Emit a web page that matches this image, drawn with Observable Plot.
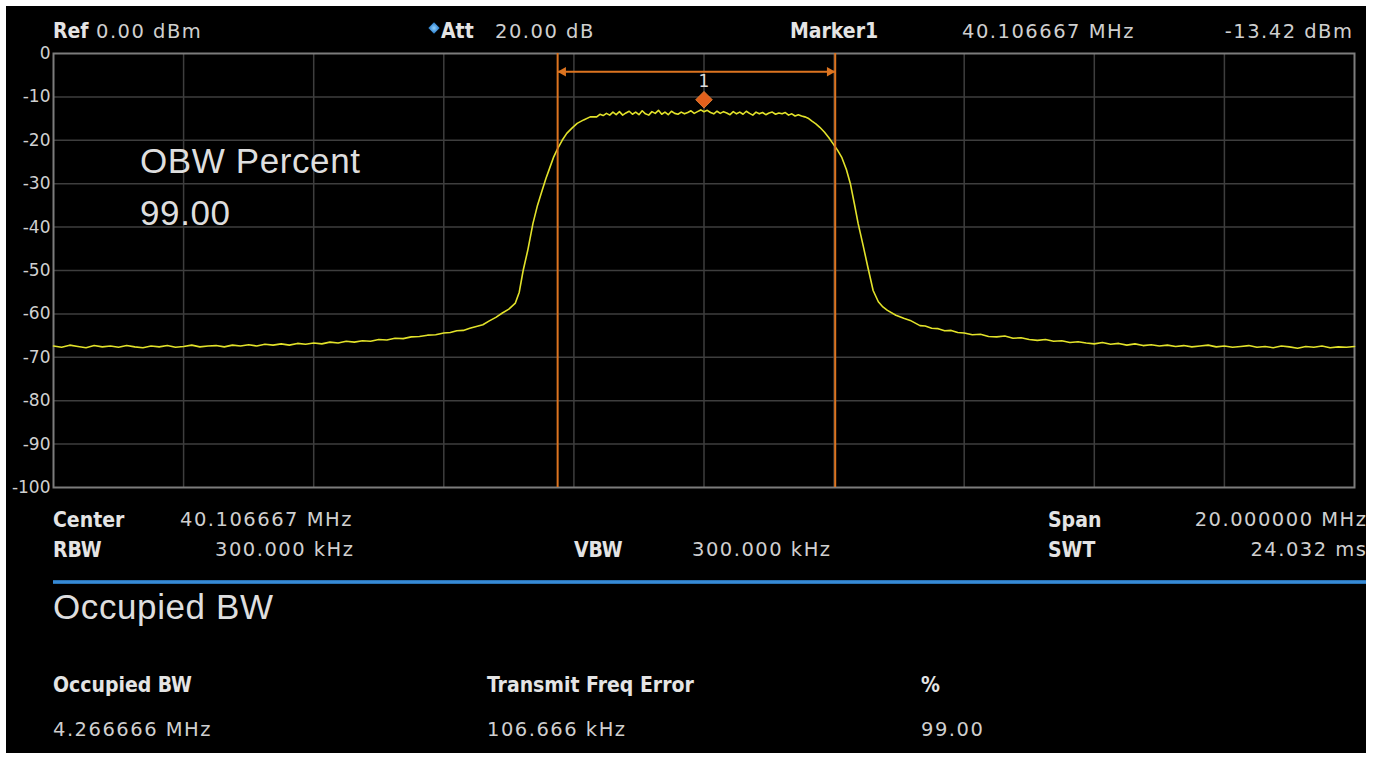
<!DOCTYPE html>
<html><head><meta charset="utf-8">
<script src="https://cdn.jsdelivr.net/npm/d3@7"></script>
<script src="https://cdn.jsdelivr.net/npm/@observablehq/plot@0.6"></script>
<style>
html,body{margin:0;padding:0;background:#fff;}
#page{position:relative;width:1381px;height:758px;overflow:hidden;background:#fff;}
#screen{position:absolute;left:6px;top:6px;width:1360px;height:747px;background:#000;}
#chart{position:absolute;left:0;top:0;}
.t{position:absolute;white-space:nowrap;line-height:1;}
.lbl{font-family:"DejaVu Sans Condensed","DejaVu Sans",sans-serif;font-stretch:condensed;font-weight:bold;font-size:21px;color:#e4e4e4;}
.val{font-family:"DejaVu Sans",sans-serif;font-size:19.5px;letter-spacing:1.5px;color:#cfcfcf;}
.big{font-family:"Liberation Sans",Arial,sans-serif;font-size:35px;letter-spacing:0.6px;color:#dedede;}
#blue{position:absolute;left:53px;top:580px;width:1313px;height:4px;background:linear-gradient(#23649f,#3d97e8,#23649f);}
#attdot{position:absolute;left:430px;top:24px;width:8px;height:8px;transform:rotate(45deg);background:radial-gradient(#8fd0ff,#2278c8);}
</style></head><body>
<div id="page"><div id="screen"></div><div id="blue"></div><div id="attdot"></div><div id="chart"></div></div>
<script>
// ---- data ----
const centerMHz = 40.106667;           // center frequency
const spanMHz = 20;                    // span
const xGridMHz = [-8, -6, -4, -2, 0, 2, 4, 6, 8];   // offsets from center
const yTicks = [0, -10, -20, -30, -40, -50, -60, -70, -80, -90, -100];
const obwEdgesMHz = [-2.25, 2.017];    // occupied bandwidth edges (offset from center)
const marker = [{offset: 0, level: -13.42}];
const arrowLevel = -4.2;
// trace: [offset from center (MHz), level (dBm)]
const trace = [
[-10.000,-67.4],[-9.875,-67.7],[-9.750,-67.2],[-9.625,-67.5],[-9.500,-67.8],[-9.375,-67.3],[-9.250,-67.6],[-9.125,-67.4],
[-9.000,-67.7],[-8.875,-67.3],[-8.750,-67.6],[-8.625,-67.8],[-8.500,-67.4],[-8.375,-67.6],[-8.250,-67.3],[-8.125,-67.7],
[-8.000,-67.5],[-7.875,-67.2],[-7.750,-67.6],[-7.625,-67.4],[-7.500,-67.3],[-7.375,-67.6],[-7.250,-67.2],[-7.125,-67.4],
[-7.000,-67.1],[-6.875,-67.4],[-6.750,-67.0],[-6.625,-67.2],[-6.500,-66.9],[-6.375,-67.2],[-6.250,-66.8],[-6.125,-67.0],
[-6.000,-66.7],[-5.875,-66.9],[-5.750,-66.5],[-5.625,-66.7],[-5.500,-66.3],[-5.375,-66.5],[-5.250,-66.2],[-5.125,-66.3],
[-5.000,-65.9],[-4.875,-66.0],[-4.750,-65.6],[-4.625,-65.7],[-4.500,-65.3],[-4.375,-65.2],[-4.250,-64.9],[-4.125,-64.8],
[-4.000,-64.4],[-3.900,-64.3],[-3.800,-63.9],[-3.700,-63.8],[-3.600,-63.3],[-3.500,-62.9],[-3.400,-62.5],[-3.300,-61.6],
[-3.20,-60.8],[-3.10,-59.8],[-3.00,-58.9],[-2.90,-57.5],[-2.84,-55.0],[-2.78,-50.0],[-2.71,-45.4],[-2.63,-39.2],
[-2.56,-35.0],[-2.49,-31.6],[-2.43,-28.8],[-2.37,-26.3],[-2.31,-23.8],[-2.25,-21.9],[-2.18,-20.0],[-2.11,-18.4],
[-2.03,-17.2],[-1.95,-16.1],[-1.85,-15.3],[-1.75,-14.6],[-1.65,-14.6],[-1.60,-14.0],
[-1.55,-14.3],[-1.50,-13.8],[-1.45,-14.2],[-1.40,-13.5],[-1.35,-14.1],[-1.30,-13.4],[-1.25,-14.2],[-1.20,-13.7],
[-1.15,-13.3],[-1.10,-14.0],[-1.05,-13.5],[-1.00,-14.1],[-0.95,-13.2],[-0.90,-13.9],[-0.85,-14.2],[-0.80,-13.4],
[-0.75,-13.8],[-0.70,-13.1],[-0.65,-14.0],[-0.60,-13.5],[-0.55,-14.1],[-0.50,-13.3],[-0.45,-13.8],[-0.40,-14.0],
[-0.35,-13.5],[-0.30,-13.9],[-0.25,-13.6],[-0.20,-13.2],[-0.15,-13.8],[-0.10,-13.4],[-0.05,-13.0],[0.00,-13.42],
[0.05,-13.1],[0.10,-13.6],[0.15,-13.9],[0.20,-13.3],[0.25,-13.8],[0.30,-13.4],[0.35,-13.7],[0.40,-14.1],
[0.45,-13.4],[0.50,-13.9],[0.55,-13.5],[0.60,-14.0],[0.65,-13.3],[0.70,-13.8],[0.75,-14.2],[0.80,-13.5],
[0.85,-13.9],[0.90,-13.6],[0.95,-14.1],[1.00,-13.7],[1.05,-13.5],[1.10,-14.0],[1.15,-13.7],[1.20,-13.9],
[1.25,-13.6],[1.30,-14.2],[1.35,-13.9],[1.40,-14.4],[1.45,-14.1],[1.50,-14.4],
[1.55,-14.6],[1.60,-14.9],[1.66,-15.6],[1.72,-16.2],[1.78,-17.0],[1.85,-18.1],[1.92,-19.4],[1.98,-20.7],
[2.05,-22.2],[2.12,-24.0],[2.19,-26.8],[2.25,-30.0],[2.31,-34.5],[2.37,-39.2],[2.45,-44.5],[2.52,-49.3],
[2.60,-54.6],[2.68,-57.2],[2.75,-58.4],[2.82,-59.2],[2.95,-60.3],[3.07,-61.0],[3.17,-61.5],[3.32,-62.7],
[3.400,-62.8],[3.500,-63.3],[3.600,-63.4],[3.700,-63.9],[3.800,-63.8],[3.900,-64.3],[4.000,-64.4],[4.125,-64.8],
[4.250,-64.7],[4.375,-65.2],[4.500,-65.3],[4.625,-65.1],[4.750,-65.6],[4.875,-65.5],[5.000,-65.9],[5.125,-66.1],
[5.250,-65.9],[5.375,-66.3],[5.500,-66.2],[5.625,-66.6],[5.750,-66.4],[5.875,-66.7],[6.000,-66.9],[6.125,-66.6],
[6.250,-67.0],[6.375,-66.8],[6.500,-67.2],[6.625,-66.9],[6.750,-67.3],[6.875,-67.1],[7.000,-67.4],[7.125,-67.2],
[7.250,-67.5],[7.375,-67.3],[7.500,-67.6],[7.625,-67.4],[7.750,-67.2],[7.875,-67.6],[8.000,-67.4],[8.125,-67.7],
[8.250,-67.5],[8.375,-67.3],[8.500,-67.7],[8.625,-67.5],[8.750,-67.8],[8.875,-67.4],[9.000,-67.6],[9.125,-67.9],
[9.250,-67.5],[9.375,-67.7],[9.500,-67.4],[9.625,-67.8],[9.750,-67.6],[9.875,-67.7],[10.000,-67.5]
];

// ---- chart ----
const orange = "#dc7420";
const chart = Plot.plot({
  width: 1381, height: 758,
  marginLeft: 53, marginRight: 27, marginTop: 53, marginBottom: 271,
  style: {background: "transparent", color: "#d0d0d0", fontFamily: "DejaVu Sans"},
  x: {domain: [-spanMHz / 2, spanMHz / 2], axis: null},
  y: {domain: [-100, 0], axis: null},
  marks: [
    Plot.ruleX(xGridMHz, {stroke: "#3e3e3e", strokeWidth: 1.5}),
    Plot.ruleY(yTicks.slice(1, -1), {stroke: "#3e3e3e", strokeWidth: 1.5}),
    Plot.frame({stroke: "#7c7c7c", strokeWidth: 2}),
    Plot.axisY(yTicks, {tickSize: 0, tickPadding: 3, fontSize: 17, fill: "#d0d0d0", label: null,
      tickFormat: d => String(d), style: {letterSpacing: "1px"}}),
    Plot.line(trace, {x: d => d[0], y: d => d[1], stroke: "#e2e22a", strokeWidth: 1.6}),
    Plot.ruleX(obwEdgesMHz, {stroke: orange, strokeWidth: 2}),
    Plot.link([obwEdgesMHz], {x1: d => d[0], x2: d => d[1], y1: arrowLevel, y2: arrowLevel, stroke: orange, strokeWidth: 2}),
    Plot.dot([obwEdgesMHz[0]], {x: d => d, y: arrowLevel, symbol: "triangle", rotate: -90, r: 3.6, fill: orange, dx: 5.5}),
    Plot.dot([obwEdgesMHz[1]], {x: d => d, y: arrowLevel, symbol: "triangle", rotate: 90, r: 3.6, fill: orange, dx: -5.5}),
    Plot.dot(marker, {x: "offset", y: "level", symbol: "diamond2", r: 7.5, fill: "#e2601c", stroke: "#f08a3a", strokeWidth: 0.8, dy: -12}),
    Plot.text(marker, {x: "offset", y: "level", text: () => "1", dy: -30, fontSize: 17, fill: "#dcdcdc"})
  ]
});
document.getElementById("chart").appendChild(chart);

// ---- text overlays ----
const page = document.getElementById("page");
function addText(cls, text, x, cy, anchor) {
  const el = document.createElement("div");
  el.className = "t " + cls;
  el.textContent = text;
  page.appendChild(el);
  const fs = parseFloat(getComputedStyle(el).fontSize);
  el.style.top = (cy - 0.49 * fs) + "px";
  const w = el.getBoundingClientRect().width;
  const ls = parseFloat(getComputedStyle(el).letterSpacing) || 0;
  el.style.left = (anchor === "end" ? x - w + ls : x) + "px";
}
// header
addText("lbl", "Ref", 53, 31.5);
addText("val", "0.00 dBm", 96, 31.5);
addText("lbl", "Att", 441, 31.5);
addText("val", "20.00 dB", 495, 31.5);
addText("lbl", "Marker1", 790, 31.5);
addText("val", centerMHz.toFixed(6) + " MHz", 962, 31.5);
addText("val", marker[0].level.toFixed(2) + " dBm", 1352, 31.5, "end");
// in-plot
addText("big", "OBW Percent", 140, 160);
addText("big", "99.00", 140, 212);
// settings row
addText("lbl", "Center", 53, 520);
addText("val", centerMHz.toFixed(6) + " MHz", 180, 520);
addText("lbl", "RBW", 53, 550);
addText("val", "300.000 kHz", 353, 550, "end");
addText("lbl", "VBW", 574, 550);
addText("val", "300.000 kHz", 692, 550);
addText("lbl", "Span", 1048, 520);
addText("val", spanMHz.toFixed(6) + " MHz", 1366, 520, "end");
addText("lbl", "SWT", 1048, 550);
addText("val", "24.032 ms", 1366, 550, "end");
// results
addText("big", "Occupied BW", 53, 606);
addText("lbl", "Occupied BW", 53, 685);
addText("lbl", "Transmit Freq Error", 487, 685);
addText("lbl", "%", 921, 685);
addText("val", "4.266666 MHz", 53, 730);
addText("val", "106.666 kHz", 487, 730);
addText("val", "99.00", 921, 730);
</script></body></html>
